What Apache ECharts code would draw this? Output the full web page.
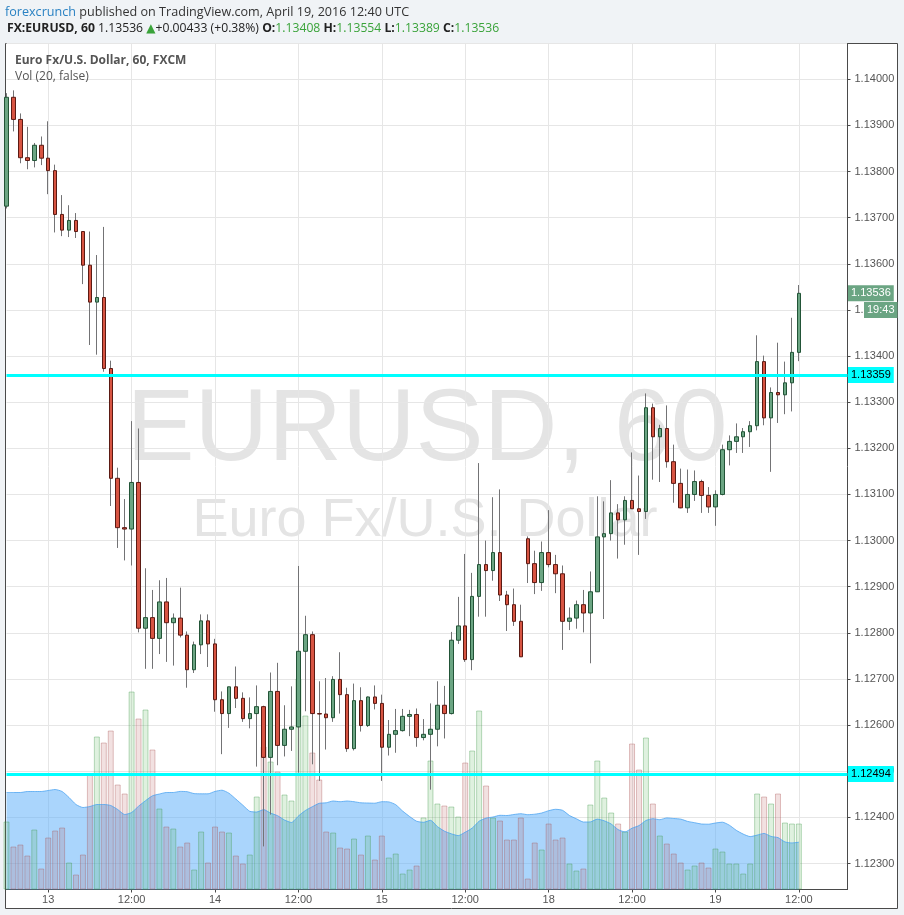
<!DOCTYPE html>
<html><head><meta charset="utf-8">
<script src="https://cdn.jsdelivr.net/npm/echarts@6/dist/echarts.min.js"></script>
<style>html,body{margin:0;padding:0;background:#f0f3f6;}#c{width:904px;height:915px;}</style>
</head><body><div id="c"></div><script>
// trading sessions: [day, first hour, last hour] (hourly candles, UTC)
const sessions = [['12',18,23],['13',0,23],['14',0,23],['15',0,20],['17',21,23],['18',0,23],['19',0,12]];
const padSlots = 7;
const xTickCats = ['13 00:00','13 12:00','14 00:00','14 12:00','15 00:00','15 12:00','18 00:00','18 12:00','19 00:00','19 12:00'];
const xTickTexts = ['13','12:00','14','12:00','15','12:00','18','12:00','19','12:00'];

const opens = [1.13725,1.13961,1.13913,1.13830,1.13824,1.13857,1.13829,1.13802,1.13707,1.13673,
 1.13694,1.13670,1.13597,1.13517,1.13527,1.13373,1.13135,1.13028,1.13025,1.13126,
 1.12810,1.12833,1.12788,1.12867,1.12822,1.12832,1.12795,1.12720,1.12774,1.12826,
 1.12776,1.12655,1.12625,1.12683,1.12658,1.12614,1.12625,1.12640,1.12530,1.12673,
 1.12556,1.12591,1.12596,1.12760,1.12796,1.12625,1.12624,1.12616,1.12699,1.12666,
 1.12549,1.12653,1.12599,1.12661,1.12647,1.12552,1.12580,1.12588,1.12619,1.12623,
 1.12573,1.12580,1.12591,1.12643,1.12625,1.12784,1.12815,1.12742,1.12879,1.12948,
 1.12935,1.12974,1.12882,1.12861,1.12825,1.13004,1.12950,1.12909,1.12974,1.12948,
 1.12928,1.12825,1.12832,1.12861,1.12843,1.12889,1.13008,1.13015,1.13060,1.13045,
 1.13087,1.13069,1.13063,1.13288,1.13225,1.13243,1.13171,1.13124,1.13071,1.13100,
 1.13128,1.13098,1.13073,1.13100,1.13197,1.13215,1.13225,1.13236,1.13249,1.13388,
 1.13266,1.13321,1.13316,1.13342,1.13408];
const highs = [1.13970,1.13976,1.13926,1.13897,1.13862,1.13876,1.13909,1.13815,1.13749,1.13727,
 1.13710,1.13670,1.13670,1.13619,1.13680,1.13390,1.13158,1.13090,1.13259,1.13243,
 1.12940,1.12893,1.12914,1.12919,1.12842,1.12898,1.12803,1.12781,1.12840,1.12840,
 1.12787,1.12673,1.12683,1.12727,1.12671,1.12660,1.12686,1.12642,1.12714,1.12735,
 1.12643,1.12684,1.12945,1.12837,1.12803,1.12695,1.12702,1.12706,1.12758,1.12681,
 1.12690,1.12682,1.12662,1.12686,1.12666,1.12611,1.12635,1.12635,1.12633,1.12636,
 1.12613,1.12647,1.12695,1.12685,1.12802,1.12878,1.12971,1.12930,1.13168,1.13000,
 1.13094,1.13111,1.12891,1.12896,1.12861,1.13009,1.12978,1.12998,1.13066,1.12969,
 1.12946,1.12855,1.12870,1.12893,1.12933,1.13096,1.13085,1.13131,1.13079,1.13096,
 1.13191,1.13141,1.13319,1.13297,1.13251,1.13293,1.13208,1.13156,1.13154,1.13152,
 1.13132,1.13116,1.13109,1.13208,1.13228,1.13254,1.13244,1.13259,1.13445,1.13401,
 1.13332,1.13429,1.13388,1.13483,1.13554];
const lows = [1.13720,1.13887,1.13818,1.13805,1.13809,1.13814,1.13751,1.13668,1.13660,1.13658,
 1.13656,1.13556,1.13424,1.13403,1.13366,1.13075,1.12984,1.12957,1.12946,1.12801,
 1.12722,1.12722,1.12754,1.12737,1.12729,1.12790,1.12681,1.12713,1.12754,1.12726,
 1.12629,1.12537,1.12594,1.12637,1.12607,1.12593,1.12510,1.12337,1.12406,1.12513,
 1.12532,1.12544,1.12497,1.12630,1.12515,1.12479,1.12547,1.12607,1.12625,1.12542,
 1.12545,1.12586,1.12596,1.12634,1.12479,1.12534,1.12540,1.12586,1.12576,1.12553,
 1.12567,1.12460,1.12554,1.12571,1.12623,1.12776,1.12737,1.12719,1.12835,1.12835,
 1.12913,1.12869,1.12804,1.12815,1.12748,1.12908,1.12884,1.12891,1.12942,1.12886,
 1.12763,1.12806,1.12809,1.12801,1.12734,1.12889,1.12830,1.13000,1.12961,1.12991,
 1.13069,1.12969,1.13047,1.13132,1.13127,1.13158,1.13082,1.13070,1.13060,1.13086,
 1.13060,1.13060,1.13032,1.13098,1.13163,1.13190,1.13190,1.13203,1.13239,1.13250,
 1.13149,1.13255,1.13274,1.13280,1.13389];
const closes = [1.13961,1.13913,1.13830,1.13824,1.13857,1.13829,1.13802,1.13707,1.13673,1.13694,
 1.13670,1.13597,1.13517,1.13527,1.13373,1.13135,1.13028,1.13025,1.13126,1.12810,
 1.12833,1.12788,1.12867,1.12822,1.12832,1.12795,1.12720,1.12774,1.12826,1.12776,
 1.12655,1.12625,1.12683,1.12658,1.12614,1.12625,1.12640,1.12530,1.12673,1.12556,
 1.12591,1.12596,1.12760,1.12796,1.12625,1.12624,1.12616,1.12699,1.12666,1.12549,
 1.12653,1.12599,1.12661,1.12647,1.12552,1.12580,1.12588,1.12619,1.12623,1.12573,
 1.12580,1.12591,1.12643,1.12625,1.12784,1.12815,1.12742,1.12879,1.12948,1.12935,
 1.12974,1.12882,1.12861,1.12825,1.12748,1.12950,1.12909,1.12974,1.12948,1.12928,
 1.12825,1.12832,1.12861,1.12843,1.12889,1.13008,1.13015,1.13060,1.13045,1.13087,
 1.13069,1.13063,1.13288,1.13225,1.13243,1.13171,1.13124,1.13071,1.13100,1.13128,
 1.13098,1.13073,1.13100,1.13197,1.13215,1.13225,1.13236,1.13249,1.13388,1.13266,
 1.13321,1.13316,1.13342,1.13408,1.13536];
// relative hourly volume
const volumes = [68,43,45,34,60,21,52,59,62,27,
 15,35,115,153,147,159,105,96,198,171,
 180,140,81,63,61,43,47,20,58,27,
 63,58,57,34,26,35,93,143,128,118,
 95,89,211,174,137,110,58,57,42,41,
 51,35,54,30,54,32,36,16,20,24,
 72,129,86,84,83,73,127,139,179,104,
 72,69,50,50,72,11,47,40,66,50,
 52,26,19,21,85,129,92,77,66,58,
 146,120,152,86,54,46,36,27,20,24,
 27,22,41,38,26,26,16,26,96,93,
 86,96,67,66,66];
// Vol MA(20) for the first bars (their window starts before the visible range)
const volMaHead = [97,97,97,98,98,98,99,100,98,92,85,82,83,85,85,84,80,75,77];
const maPeriod = 20;
const levelLines = [1.13359, 1.12494];
const countdown = '19:43';
const priceTickAtCountdown = 1.135;
const headerChange = '+0.00433 (+0.38%)';

const UP = '#6ba583', DOWN = '#d75442', UP_B = '#225437', DOWN_B = '#5b1a13', WICK = '#737375';

const categories = [];
sessions.forEach(s => { for (let h = s[1]; h <= s[2]; h++) categories.push(s[0] + ' ' + (h < 10 ? '0' : '') + h + ':00'); });
for (let k = 0; k < padSlots; k++) categories.push('pad' + k);
const isTick = (idx) => xTickCats.indexOf(categories[idx]) >= 0;
const labelOf = (val) => { const k = xTickCats.indexOf(val); return k >= 0 ? xTickTexts[k] : ''; };

const wickData = opens.map((o, i) => [o, closes[i], lows[i], highs[i]]);
const bodyData = opens.map((o, i) => [o, closes[i], Math.min(o, closes[i]), Math.max(o, closes[i])]);
const volData = volumes.map((v, i) => ({
  value: v,
  itemStyle: closes[i] >= opens[i]
    ? {color: 'rgba(76,175,80,0.18)', borderColor: 'rgba(60,150,70,0.35)'}
    : {color: 'rgba(185,90,90,0.18)', borderColor: 'rgba(170,80,80,0.35)'}
}));
const volMa = volumes.map((v, i) => {
  if (i < maPeriod - 1) return volMaHead[i];
  let s = 0; for (let j = i - maPeriod + 1; j <= i; j++) s += volumes[j];
  return +(s / maPeriod).toFixed(1);
});
const last = closes.length - 1;
const f5 = v => (+v).toFixed(5);

const green = '#3aa33a';
const headerLine2 = '{b|FX:EURUSD, 60} ' + f5(closes[last]) + ' {g|▲}' + headerChange +
  ' {b|O:}{v|' + f5(opens[last]) + '} {b|H:}{v|' + f5(highs[last]) + '} {b|L:}{v|' + f5(lows[last]) + '} {b|C:}{v|' + f5(closes[last]) + '}';

const markLabel = {show: true, position: 'end', distance: 0.5, backgroundColor: '#00ffff', color: '#000',
  padding: [3, 3, 2, 3], fontSize: 11, fontFamily: 'Liberation Sans, Arial, sans-serif'};
const hiddenLine = {color: 'rgba(255,255,255,0)', width: 1, type: 'solid'};
const markData = levelLines.map(v => ({yAxis: v, label: Object.assign({}, markLabel, {formatter: f5(v)})})).concat([
  {yAxis: closes[last], lineStyle: hiddenLine,
    label: Object.assign({}, markLabel, {backgroundColor: UP, color: '#fff', formatter: f5(closes[last])})},
  {yAxis: priceTickAtCountdown, lineStyle: hiddenLine,
    label: Object.assign({}, markLabel, {backgroundColor: UP, color: '#fff', distance: 16.5, formatter: countdown})}
]);

const chart = echarts.init(document.getElementById('c'));
chart.setOption({
  animation: false,
  backgroundColor: '#f0f3f6',
  textStyle: {fontFamily: 'Liberation Sans, Arial, sans-serif'},
  grid: {left: 6.5, right: 56.5, top: 43.5, bottom: 25.5},
  xAxis: {
    type: 'category', data: categories, boundaryGap: false,
    axisLine: {lineStyle: {color: '#4a4a4a'}},
    axisTick: {show: true, length: 3, interval: isTick, lineStyle: {color: '#4a4a4a'}},
    axisLabel: {interval: isTick, formatter: labelOf, color: '#555', fontSize: 11, margin: 5},
    splitLine: {show: true, interval: isTick, lineStyle: {color: '#e6e6e6'}}
  },
  yAxis: [{
    type: 'value', position: 'right', min: 1.122436, max: 1.140776, splitNumber: 18,
    axisLine: {show: true, lineStyle: {color: '#4a4a4a'}},
    axisTick: {show: true, length: 3, lineStyle: {color: '#4a4a4a'}},
    axisLabel: {formatter: f5, color: '#555', fontSize: 11, margin: 7, showMinLabel: false, showMaxLabel: false},
    splitLine: {show: true, lineStyle: {color: '#e6e6e6'}}
  }, {
    type: 'value', position: 'left', min: 0, max: 846, show: false, splitLine: {show: false}
  }],
  graphic: [
    {type: 'rect', z: -100, shape: {x: 5.5, y: 43.5, width: 892, height: 865}, style: {fill: '#fff', stroke: '#4a4a4a', lineWidth: 1}},
    {type: 'text', z: -90, style: {text: 'EURUSD, 60', x: 427, y: 432, textAlign: 'center', textVerticalAlign: 'middle', fill: '#e4e4e4', font: '102px "Liberation Sans", Arial, sans-serif'}},
    {type: 'text', z: -90, style: {text: 'Euro Fx/U.S. Dollar', x: 425, y: 521, textAlign: 'center', textVerticalAlign: 'middle', fill: '#e4e4e4', font: '54px "Liberation Sans", Arial, sans-serif'}},
    {type: 'text', z: 10, style: {text: '{a|forexcrunch} published on TradingView.com, April 19, 2016 12:40 UTC', x: 5, y: 12, textVerticalAlign: 'middle', fill: '#333', font: '12.6px "Open Sans", sans-serif',
      rich: {a: {fill: '#2a82c3', font: '12.6px "Open Sans", sans-serif'}}}},
    {type: 'text', z: 10, style: {text: headerLine2, x: 7, y: 29, textVerticalAlign: 'middle', fill: '#222', font: '12.2px "Open Sans", sans-serif',
      rich: {b: {fill: '#222', font: 'bold 12.2px "Open Sans", sans-serif'}, g: {fill: green, font: '12px "DejaVu Sans", sans-serif'}, v: {fill: green, font: '12.2px "Open Sans", sans-serif'}}}},
    {type: 'text', z: 10, style: {text: 'Euro Fx/U.S. Dollar, 60, FXCM', x: 15, y: 61, textVerticalAlign: 'middle', fill: '#555', font: 'bold 12px "Open Sans", sans-serif'}},
    {type: 'text', z: 10, style: {text: 'Vol (20, false)', x: 15, y: 77, textVerticalAlign: 'middle', fill: '#555', font: '12px "Open Sans", sans-serif'}}
  ],
  series: [
    {type: 'bar', name: 'Volume', xAxisIndex: 0, yAxisIndex: 1, data: volData, barWidth: 6, z: 1,
      itemStyle: {borderWidth: 1}},
    {type: 'line', name: 'Vol MA', xAxisIndex: 0, yAxisIndex: 1, data: volMa, symbol: 'none', smooth: 0.2, z: 1,
      lineStyle: {color: 'rgba(70,160,240,0.75)', width: 1}, areaStyle: {color: 'rgba(85,172,250,0.5)', opacity: 1}},
    {type: 'candlestick', name: 'wick', yAxisIndex: 0, data: wickData, barWidth: 1, z: 3,
      itemStyle: {color: WICK, color0: WICK, borderColor: WICK, borderColor0: WICK, borderWidth: 1}},
    {type: 'candlestick', name: 'EURUSD', yAxisIndex: 0, data: bodyData, barWidth: 4, z: 4,
      itemStyle: {color: UP, color0: DOWN, borderColor: UP_B, borderColor0: DOWN_B, borderWidth: 1}},
    {type: 'line', name: 'levels', yAxisIndex: 0, data: closes, symbol: 'none', silent: true, z: 5,
      lineStyle: {opacity: 0, width: 0},
      markLine: {symbol: ['none', 'none'], silent: true, animation: false, precision: 5,
        lineStyle: {color: '#00ffff', width: 3, type: 'solid', opacity: 1},
        data: markData}}
  ]
});
</script></body></html>
